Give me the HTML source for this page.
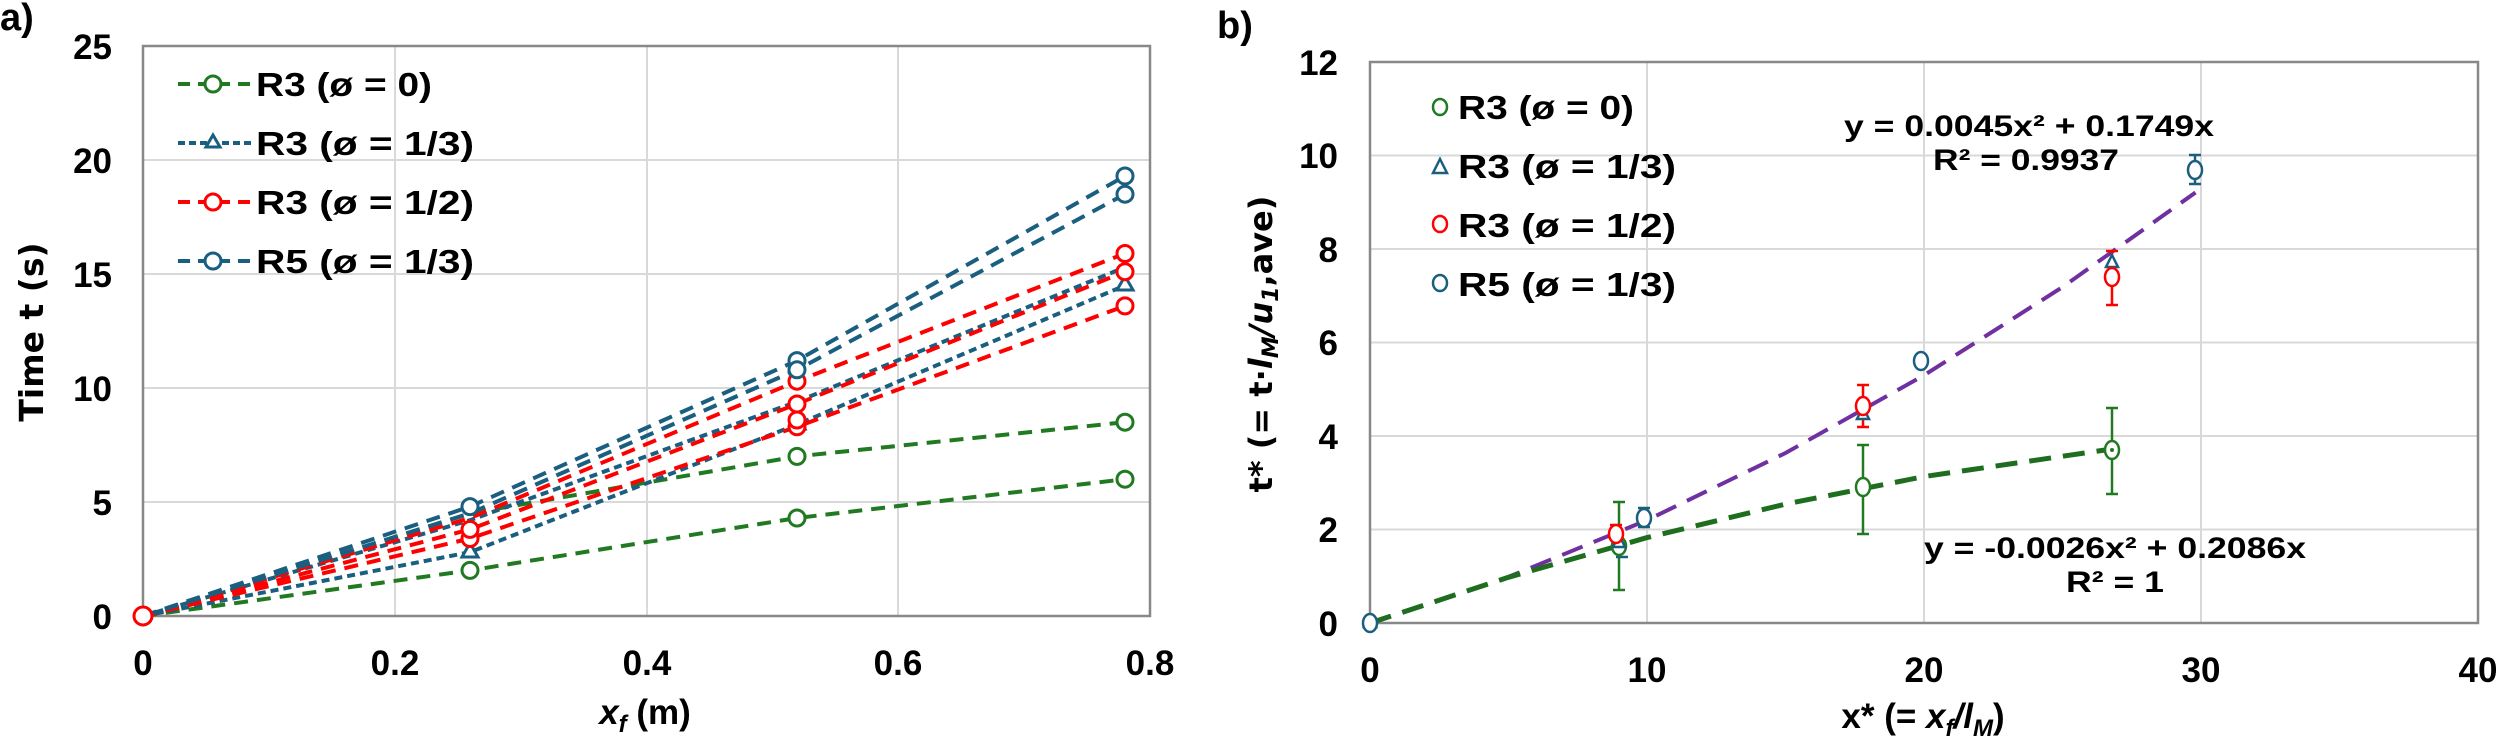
<!DOCTYPE html>
<html><head><meta charset="utf-8"><style>
html,body{margin:0;padding:0;background:#fff;}
svg{display:block;}
.t{font-family:"Liberation Sans",sans-serif;font-weight:bold;fill:#000;}
.d{font-family:"DejaVu Sans","Liberation Sans",sans-serif;font-weight:bold;fill:#000;}
</style></head><body>
<svg width="2500" height="737" viewBox="0 0 2500 737" xmlns="http://www.w3.org/2000/svg">
<!-- Panel a -->
<text x="0" y="30" class="t" font-size="38">a)</text>
<g stroke="#d9d9d9" stroke-width="2">
<line x1="143" y1="502" x2="1150" y2="502"/><line x1="143" y1="388" x2="1150" y2="388"/>
<line x1="143" y1="274" x2="1150" y2="274"/><line x1="143" y1="160" x2="1150" y2="160"/>
<line x1="395" y1="46" x2="395" y2="616"/><line x1="647" y1="46" x2="647" y2="616"/><line x1="898" y1="46" x2="898" y2="616"/>
</g>
<rect x="143" y="46" width="1007" height="570" fill="none" stroke="#888" stroke-width="2.5"/>
<g class="t" font-size="35" text-anchor="end">
<text x="112" y="629">0</text><text x="112" y="515">5</text><text x="112" y="401">10</text>
<text x="112" y="287">15</text><text x="112" y="173">20</text><text x="112" y="59">25</text>
</g>
<g class="t" font-size="35" text-anchor="middle">
<text x="143" y="675">0</text><text x="395" y="675">0.2</text><text x="647" y="675">0.4</text><text x="898" y="675">0.6</text><text x="1150" y="675">0.8</text>
</g>
<text x="645" y="724" class="t" font-size="35" text-anchor="middle"><tspan font-style="italic">x</tspan><tspan font-style="italic" font-size="24" dy="8">f</tspan><tspan dy="-8"> (m)</tspan></text>
<text transform="translate(43,332) rotate(-90)" class="d" font-size="33" text-anchor="middle">Time t (s)</text>
<g fill="none" stroke-width="4" stroke-dasharray="14,9">
<polyline stroke="#217a21" points="143,616 470,570.4 797,518 1125,479.2"/>
<polyline stroke="#217a21" points="143,616 470,513.4 797,456.4 1125,422.2"/>
<polyline stroke="#1a5e80" stroke-dasharray="8,5" points="143,616 470,552.2 797,424.5 1125,285.4"/>
<polyline stroke="#1a5e80" stroke-dasharray="8,5" points="143,616 470,520.2 797,401.7 1125,267.2"/>
<polyline stroke="#ff0000" points="143,616 470,538.5 797,426.8 1125,305.9"/>
<polyline stroke="#ff0000" points="143,616 470,529.4 797,404 1125,271.7"/>
<polyline stroke="#ff0000" points="143,616 470,518 797,381.2 1125,253.5"/>
<polyline stroke="#1a5e80" points="143,616 470,506.6 797,360.6 1125,176"/>
<polyline stroke="#1a5e80" points="143,616 470,513.4 797,369.8 1125,194.2"/>
</g>
<g fill="#fff" stroke-width="3">
<g stroke="#217a21"><circle cx="470" cy="570.4" r="8"/><circle cx="797" cy="518" r="8"/><circle cx="1125" cy="479.2" r="8"/><circle cx="797" cy="456.4" r="8"/><circle cx="1125" cy="422.2" r="8"/></g>
<g stroke="#1a5e80"><path d="M470,543 l8,14 h-16z"/><path d="M1125,276 l8,14 h-16z"/><path d="M797,415 l8,14 h-16z"/></g>
<g stroke="#ff0000"><circle cx="470" cy="538.5" r="8"/><circle cx="470" cy="529.4" r="8"/><circle cx="797" cy="426.8" r="8"/><circle cx="797" cy="420" r="8"/><circle cx="797" cy="404" r="8"/><circle cx="797" cy="381.2" r="8"/><circle cx="1125" cy="305.9" r="8"/><circle cx="1125" cy="271.7" r="8"/><circle cx="1125" cy="253.5" r="8"/></g>
<g stroke="#1a5e80"><circle cx="470" cy="506.6" r="8"/><circle cx="797" cy="360.6" r="8"/><circle cx="797" cy="369.8" r="8"/><circle cx="1125" cy="176" r="8"/><circle cx="1125" cy="194.2" r="8"/></g>
<circle cx="143" cy="616" r="9" stroke="#ff0000"/>
</g>
<!-- legend a -->
<g stroke-width="4" fill="#fff">
<line x1="178" y1="84" x2="252" y2="84" stroke="#217a21" stroke-dasharray="12,8"/><circle cx="213" cy="84" r="8" stroke="#217a21" stroke-width="3"/>
<line x1="178" y1="143" x2="252" y2="143" stroke="#1a5e80" stroke-dasharray="7,4"/><path d="M213,135 l7,12 h-14z" stroke="#1a5e80" stroke-width="3"/>
<line x1="178" y1="202" x2="252" y2="202" stroke="#ff0000" stroke-dasharray="12,8"/><circle cx="213" cy="202" r="8" stroke="#ff0000" stroke-width="3"/>
<line x1="178" y1="261" x2="252" y2="261" stroke="#1a5e80" stroke-dasharray="12,8"/><circle cx="213" cy="261" r="8" stroke="#1a5e80" stroke-width="3"/>
</g>
<g class="t" font-size="33">
<text x="256" y="96" textLength="176" lengthAdjust="spacingAndGlyphs">R3 (ø = 0)</text>
<text x="256" y="155" textLength="218" lengthAdjust="spacingAndGlyphs">R3 (ø = 1/3)</text>
<text x="256" y="214" textLength="218" lengthAdjust="spacingAndGlyphs">R3 (ø = 1/2)</text>
<text x="256" y="273" textLength="218" lengthAdjust="spacingAndGlyphs">R5 (ø = 1/3)</text>
</g>

<!-- Panel b -->
<text x="1217" y="38" class="t" font-size="38">b)</text>
<g stroke="#d9d9d9" stroke-width="2">
<line x1="1370" y1="529.5" x2="2478" y2="529.5"/><line x1="1370" y1="436" x2="2478" y2="436"/>
<line x1="1370" y1="342.5" x2="2478" y2="342.5"/><line x1="1370" y1="249" x2="2478" y2="249"/>
<line x1="1370" y1="155.5" x2="2478" y2="155.5"/>
<line x1="1647" y1="62" x2="1647" y2="623"/><line x1="1924" y1="62" x2="1924" y2="623"/><line x1="2201" y1="62" x2="2201" y2="623"/>
</g>
<rect x="1370" y="62" width="1108" height="561" fill="none" stroke="#888" stroke-width="2.5"/>
<g class="t" font-size="35" text-anchor="end">
<text x="1338" y="636">0</text><text x="1338" y="542">2</text><text x="1338" y="449">4</text>
<text x="1338" y="355">6</text><text x="1338" y="262">8</text><text x="1338" y="168">10</text><text x="1338" y="75">12</text>
</g>
<g class="t" font-size="35" text-anchor="middle">
<text x="1370" y="682">0</text><text x="1647" y="682">10</text><text x="1924" y="682">20</text><text x="2201" y="682">30</text><text x="2478" y="682">40</text>
</g>
<text x="1923" y="728" class="t" font-size="35" text-anchor="middle">x* (= <tspan font-style="italic">x</tspan><tspan font-style="italic" font-size="24" dy="8">f</tspan><tspan dy="-8" font-style="italic">/l</tspan><tspan font-style="italic" font-size="24" dy="8">M</tspan><tspan dy="-8">)</tspan></text>
<text transform="translate(1272,344) rotate(-90)" class="d" font-size="32" text-anchor="middle">t* (= t·<tspan font-style="italic">l</tspan><tspan font-style="italic" font-size="22" dy="6">M</tspan><tspan dy="-6" font-style="italic">/u</tspan><tspan font-style="italic" font-size="22" dy="6">1</tspan><tspan dy="-6">,ave)</tspan></text>
<!-- fits -->
<polyline fill="none" stroke="#7030a0" stroke-width="4" stroke-dasharray="22,12" points="1370,623 1508.5,576.9 1647,520.2 1785.5,453 1924,375.3 2062.5,287.1 2195.5,192.5"/>
<polyline fill="none" stroke="#1f6e1f" stroke-width="5" stroke-dasharray="22,12" points="1370,623 1508.5,577.3 1647,537.6 1785.5,504.1 1924,476.6 2112,449"/>
<!-- error bars -->
<g stroke-width="2.5" fill="none">
<g stroke="#217a21"><path d="M1619,590 V502 M1613,590 h12 M1613,502 h12 M1863,534 V445 M1857,534 h12 M1857,445 h12 M2112,494 V408 M2106,494 h12 M2106,408 h12"/></g>
<g stroke="#ff0000"><path d="M1616,534 V525 M1610,525 h12 M1863,427 V385 M1857,427 h12 M1857,385 h12 M2112,305 V251 M2106,305 h12 M2106,251 h12"/></g>
<g stroke="#1a5e80"><path d="M1644,527 V508 M1638,527 h12 M1638,508 h12 M2195,184 V155 M2189,184 h12 M2189,155 h12 M1616,557 h12"/></g>
</g>
<g fill="#fff" stroke-width="2.5">
<g stroke="#217a21"><ellipse cx="1619" cy="546" rx="7" ry="9"/><ellipse cx="1863" cy="487" rx="7" ry="9"/><ellipse cx="2112" cy="450" rx="7" ry="9"/></g>
<g stroke="#1a5e80"><path d="M1619,535 l6,12 h-12z"/><path d="M1863,407 l6,12 h-12z"/><path d="M2112,255 l6,12 h-12z"/><path d="M1370,615 l6,12 h-12z"/></g>
<g stroke="#ff0000"><ellipse cx="1616" cy="534" rx="7" ry="9"/><ellipse cx="1863" cy="406" rx="7" ry="9"/><ellipse cx="2112" cy="277" rx="7" ry="9"/></g>
<g stroke="#1a5e80"><ellipse cx="1370" cy="623" rx="7" ry="9"/><ellipse cx="1644" cy="518" rx="7" ry="9"/><ellipse cx="1921" cy="361" rx="7" ry="9"/><ellipse cx="2195" cy="170" rx="7" ry="9"/></g>
</g>
<circle cx="2112" cy="450" r="2" fill="#217a21"/>
<!-- legend b -->
<g fill="#fff" stroke-width="2.5">
<ellipse cx="1440" cy="107" rx="7" ry="8" stroke="#217a21"/>
<path d="M1440,159 l7,14 h-14z" stroke="#1a5e80"/>
<ellipse cx="1440" cy="224" rx="7" ry="8" stroke="#ff0000"/>
<ellipse cx="1440" cy="283" rx="7" ry="8" stroke="#1a5e80"/>
</g>
<g class="t" font-size="33">
<text x="1458" y="119" textLength="176" lengthAdjust="spacingAndGlyphs">R3 (ø = 0)</text>
<text x="1458" y="178" textLength="218" lengthAdjust="spacingAndGlyphs">R3 (ø = 1/3)</text>
<text x="1458" y="237" textLength="218" lengthAdjust="spacingAndGlyphs">R3 (ø = 1/2)</text>
<text x="1458" y="296" textLength="218" lengthAdjust="spacingAndGlyphs">R5 (ø = 1/3)</text>
</g>
<g class="t" font-size="30" text-anchor="middle">
<text x="2029" y="136" textLength="370" lengthAdjust="spacingAndGlyphs">y = 0.0045x² + 0.1749x</text>
<text x="2026" y="170" textLength="186" lengthAdjust="spacingAndGlyphs">R² = 0.9937</text>
<text x="2115" y="558" textLength="382" lengthAdjust="spacingAndGlyphs">y = -0.0026x² + 0.2086x</text>
<text x="2115" y="592" textLength="98" lengthAdjust="spacingAndGlyphs">R² = 1</text>
</g>
</svg>
</body></html>
